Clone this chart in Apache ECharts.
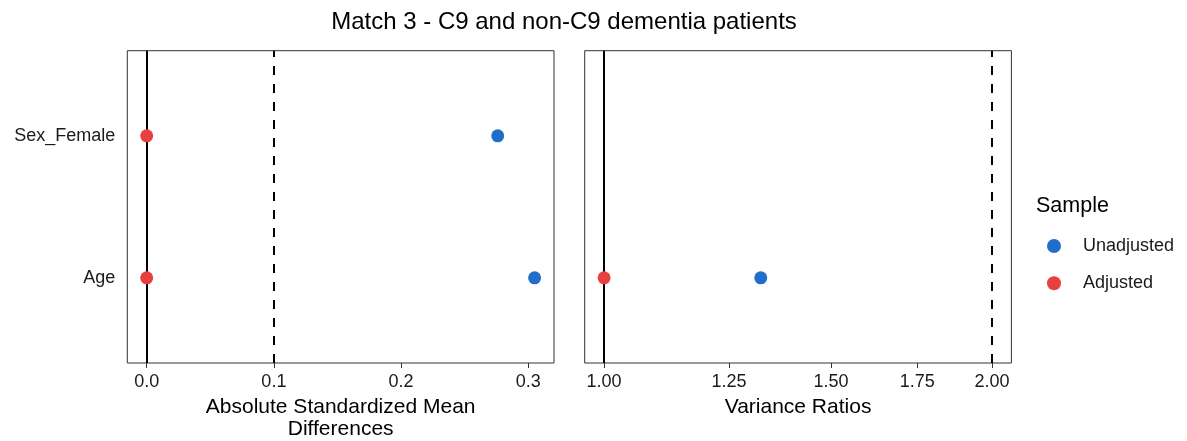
<!DOCTYPE html>
<html>
<head>
<meta charset="utf-8">
<script src="https://cdn.jsdelivr.net/npm/echarts@6/dist/echarts.min.js"></script>
<style>
html,body{margin:0;padding:0;background:#fff;}
#c{width:1187px;height:441px;}
</style>
</head>
<body>
<div id="c"></div>
<script>
// ---- data ----
const covariates = ['Age', 'Sex_Female'];          // bottom -> top
const smdUnadjusted = [0.305, 0.276];
const smdAdjusted = [0.0, 0.0];
const vrUnadjusted = [1.323, null];                // variance ratio only for Age
const vrAdjusted = [1.0, null];
const smdTicks = [0, 0.1, 0.2, 0.3];
const vrTicks = [1.0, 1.25, 1.5, 1.75, 2.0];
const smdThreshold = 0.1;
const vrThreshold = 2.0;
const seriesNames = ['Unadjusted', 'Adjusted'];

const BLUE = '#1F6FC9';
const RED = '#E8403F';
const FONT = 'Liberation Sans, Arial, sans-serif';

function pts(vals) {
  const out = [];
  vals.forEach((v, i) => { if (v !== null) out.push([v, i + 1]); });
  return out;
}

const chart = echarts.init(document.getElementById('c'), null, {renderer: 'canvas'});

const gridBase = {top: 50.7, height: 312.3, width: 426.7, show: true,
  borderColor: '#333', borderWidth: 1, backgroundColor: '#fff', containLabel: false,
  outerBoundsMode: 'none'};

function yAxis(idx, showLabels) {
  return {
    type: 'value', gridIndex: idx, min: 0.4, max: 2.6,
    splitLine: {show: false},
    axisLine: {show: false},
    axisTick: {show: showLabels, length: 5, lineStyle: {color: '#333', width: 1},
      customValues: covariates.map((c, i) => i + 1)},
    axisLabel: {show: showLabels, margin: 12, fontSize: 18, color: '#1a1a1a', fontFamily: FONT,
      customValues: covariates.map((c, i) => i + 1),
      formatter: v => covariates[Math.round(v) - 1] || ''}
  };
}

const option = {
  backgroundColor: '#fff',
  animation: false,
  title: [
    {text: 'Match 3 - C9 and non-C9 dementia patients', left: 559, top: 5, textAlign: 'center',
      textStyle: {fontSize: 24, fontWeight: 'normal', color: '#000', fontFamily: FONT}},
    {text: 'Sample', left: 1031, top: 190,
      textStyle: {fontSize: 21.5, fontWeight: 'normal', color: '#000', fontFamily: FONT}}
  ],
  legend: {
    data: seriesNames, orient: 'vertical', left: 1042, top: 232,
    itemWidth: 48, itemHeight: 14, itemGap: 19.3, icon: 'circle',
    textStyle: {fontSize: 18, color: '#1a1a1a', fontFamily: FONT, lineHeight: 18},
    selectedMode: false
  },
  grid: [
    Object.assign({}, gridBase, {left: 127.3}),
    Object.assign({}, gridBase, {left: 584.7})
  ],
  xAxis: [
    {
      type: 'value', gridIndex: 0, min: -0.01525, max: 0.32025,
      splitLine: {show: false}, axisLine: {show: false},
      axisTick: {length: 5, lineStyle: {color: '#333', width: 1}, customValues: smdTicks},
      axisLabel: {customValues: smdTicks, fontSize: 18, color: '#1a1a1a', fontFamily: FONT, margin: 10,
        formatter: v => v.toFixed(1)},
      name: 'Absolute Standardized Mean\nDifferences', nameLocation: 'middle', nameGap: 33,
      nameTextStyle: {fontSize: 21, color: '#000', fontFamily: FONT, lineHeight: 22}
    },
    {
      type: 'log', logBase: 10, gridIndex: 1, min: 0.9659, max: 2.0705,
      splitLine: {show: false}, axisLine: {show: false}, minorTick: {show: false},
      axisTick: {length: 5, lineStyle: {color: '#333', width: 1}, customValues: vrTicks},
      axisLabel: {customValues: vrTicks, fontSize: 18, color: '#1a1a1a', fontFamily: FONT, margin: 10,
        formatter: v => Number(v).toFixed(2)},
      name: 'Variance Ratios', nameLocation: 'middle', nameGap: 33,
      nameTextStyle: {fontSize: 21, color: '#000', fontFamily: FONT, lineHeight: 22}
    }
  ],
  yAxis: [yAxis(0, true), yAxis(1, false)],
  series: [
    // reference lines
    {type: 'scatter', xAxisIndex: 0, yAxisIndex: 0, data: [], z: 1, silent: true,
      markLine: {symbol: 'none', silent: true, label: {show: false}, animation: false,
        data: [
          {xAxis: 0, lineStyle: {color: '#000', width: 2, type: 'solid'}},
          {xAxis: smdThreshold, lineStyle: {color: '#000', width: 2, type: [9, 9]}}
        ]}},
    {type: 'scatter', xAxisIndex: 1, yAxisIndex: 1, data: [], z: 1, silent: true,
      markLine: {symbol: 'none', silent: true, label: {show: false}, animation: false,
        data: [
          {xAxis: 1, lineStyle: {color: '#000', width: 2, type: 'solid'}},
          {xAxis: vrThreshold, lineStyle: {color: '#000', width: 2, type: [9, 9]}}
        ]}},
    {name: 'Unadjusted', type: 'scatter', xAxisIndex: 0, yAxisIndex: 0, z: 5,
      symbol: 'circle', symbolSize: 13, itemStyle: {color: BLUE, opacity: 1}, data: pts(smdUnadjusted)},
    {name: 'Adjusted', type: 'scatter', xAxisIndex: 0, yAxisIndex: 0, z: 5,
      symbol: 'circle', symbolSize: 13, itemStyle: {color: RED, opacity: 1}, data: pts(smdAdjusted)},
    {name: 'Unadjusted', type: 'scatter', xAxisIndex: 1, yAxisIndex: 1, z: 5,
      symbol: 'circle', symbolSize: 13, itemStyle: {color: BLUE, opacity: 1}, data: pts(vrUnadjusted)},
    {name: 'Adjusted', type: 'scatter', xAxisIndex: 1, yAxisIndex: 1, z: 5,
      symbol: 'circle', symbolSize: 13, itemStyle: {color: RED, opacity: 1}, data: pts(vrAdjusted)}
  ]
};
chart.setOption(option);
</script>
</body>
</html>
